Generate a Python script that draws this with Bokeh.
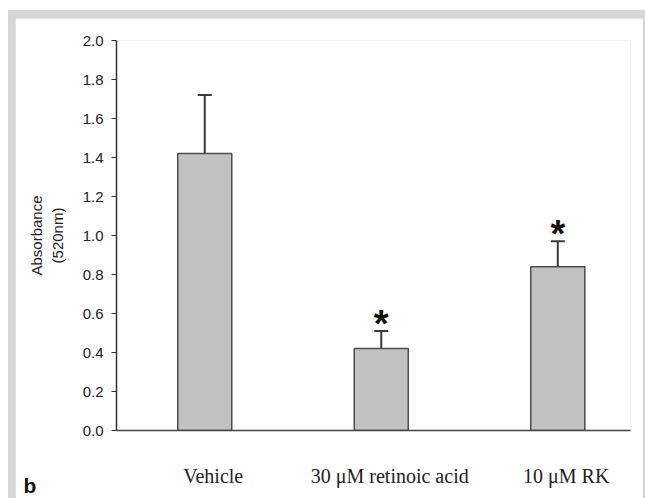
import math
from bokeh.plotting import figure
from bokeh.models import ColumnDataSource, Range1d, FixedTicker, NumeralTickFormatter, Title
from bokeh.layouts import column
from bokeh.core.properties import value
from bokeh.embed import file_html
from bokeh.resources import INLINE

categories = ["Vehicle", "30 \u03bcM retinoic acid", "10 \u03bcM RK"]
means = [1.42, 0.42, 0.84]
errors = [0.30, 0.09, 0.13]
significant = [False, True, True]
y_ticks = [0.0, 0.2, 0.4, 0.6, 0.8, 1.0, 1.2, 1.4, 1.6, 1.8, 2.0]

xs = [i + 1 for i in range(len(categories))]
tops = [m + e for m, e in zip(means, errors)]
src = ColumnDataSource(dict(x=xs, mean=means, top=tops))
star_src = ColumnDataSource(dict(
    x=[x for x, s in zip(xs, significant) if s],
    y=[t for t, s in zip(tops, significant) if s],
    t=["*" for s in significant if s]))

p = figure(width=628, height=480, output_backend="svg", toolbar_location=None,
           x_range=Range1d(0.5, 3.412), y_range=Range1d(0, 2.0),
           min_border_left=101, min_border_right=13, min_border_top=22, min_border_bottom=68)
p.outline_line_color = None
p.background_fill_color = "white"
p.border_fill_color = "white"
p.xgrid.visible = False
p.ygrid.visible = False

p.vbar(x="x", top="mean", bottom=0, width=0.306, source=src,
       fill_color="#c2c2c2", line_color="#4d4d4d", line_width=1.5)
p.segment(x0="x", y0="mean", x1="x", y1="top", source=src, line_color="#3a3a3a", line_width=2)
p.dash(x="x", y="top", size=14, source=src, line_color="#3a3a3a", line_width=2)
p.text(x="x", y="y", text="t", source=star_src, text_align="center", text_baseline="middle",
       y_offset=-7, text_font=value("Liberation Sans"), text_font_style="bold",
       text_font_size="38px", text_color="#111111")

# y axis
ya = p.yaxis[0]
ya.ticker = FixedTicker(ticks=y_ticks)
ya.formatter = NumeralTickFormatter(format="0.0")
ya.major_label_text_font = "Liberation Sans"
ya.major_label_text_font_size = "15px"
ya.major_label_text_color = "#222222"
ya.major_tick_in = 0
ya.major_tick_out = 5
ya.minor_tick_in = 0
ya.minor_tick_out = 0
ya.major_label_standoff = 8
ya.axis_line_color = "#333333"
ya.major_tick_line_color = "#333333"
ya.axis_line_width = 1.5
ya.axis_label = "Absorbance\n(520nm)"
ya.axis_label_text_font = "Liberation Sans"
ya.axis_label_text_font_size = "15px"
ya.axis_label_text_font_style = "normal"
ya.axis_label_text_color = "#222222"
ya.axis_label_text_align = "center"
ya.axis_label_standoff = 14

# x axis
xa = p.xaxis[0]
label_x = [x + 0.048 for x in xs]
xa.ticker = FixedTicker(ticks=label_x)
xa.major_label_overrides = {x: c for x, c in zip(label_x, categories)}
xa.major_label_text_font = "Liberation Serif"
xa.major_label_text_font_size = "20px"
xa.major_label_text_color = "#222222"
xa.major_tick_in = 0
xa.major_tick_out = 0
xa.minor_tick_in = 0
xa.minor_tick_out = 0
xa.major_label_standoff = 34
xa.axis_line_color = "#444444"
xa.axis_line_width = 1.5

# panel letter
t = Title(text="b", align="left", offset=-93, vertical_align="top",
          text_font="Liberation Sans", text_font_style="bold", text_font_size="21px",
          text_color="#111111", standoff=-32)
p.add_layout(t, "below")

layout = column(p, styles={"background-color": "#d6d6d6", "padding-top": "8px",
                           "padding-left": "7px", "padding-right": "2px",
                           "margin-top": "10px", "margin-left": "8px"})

open("out.html", "w").write(file_html(layout, INLINE))
